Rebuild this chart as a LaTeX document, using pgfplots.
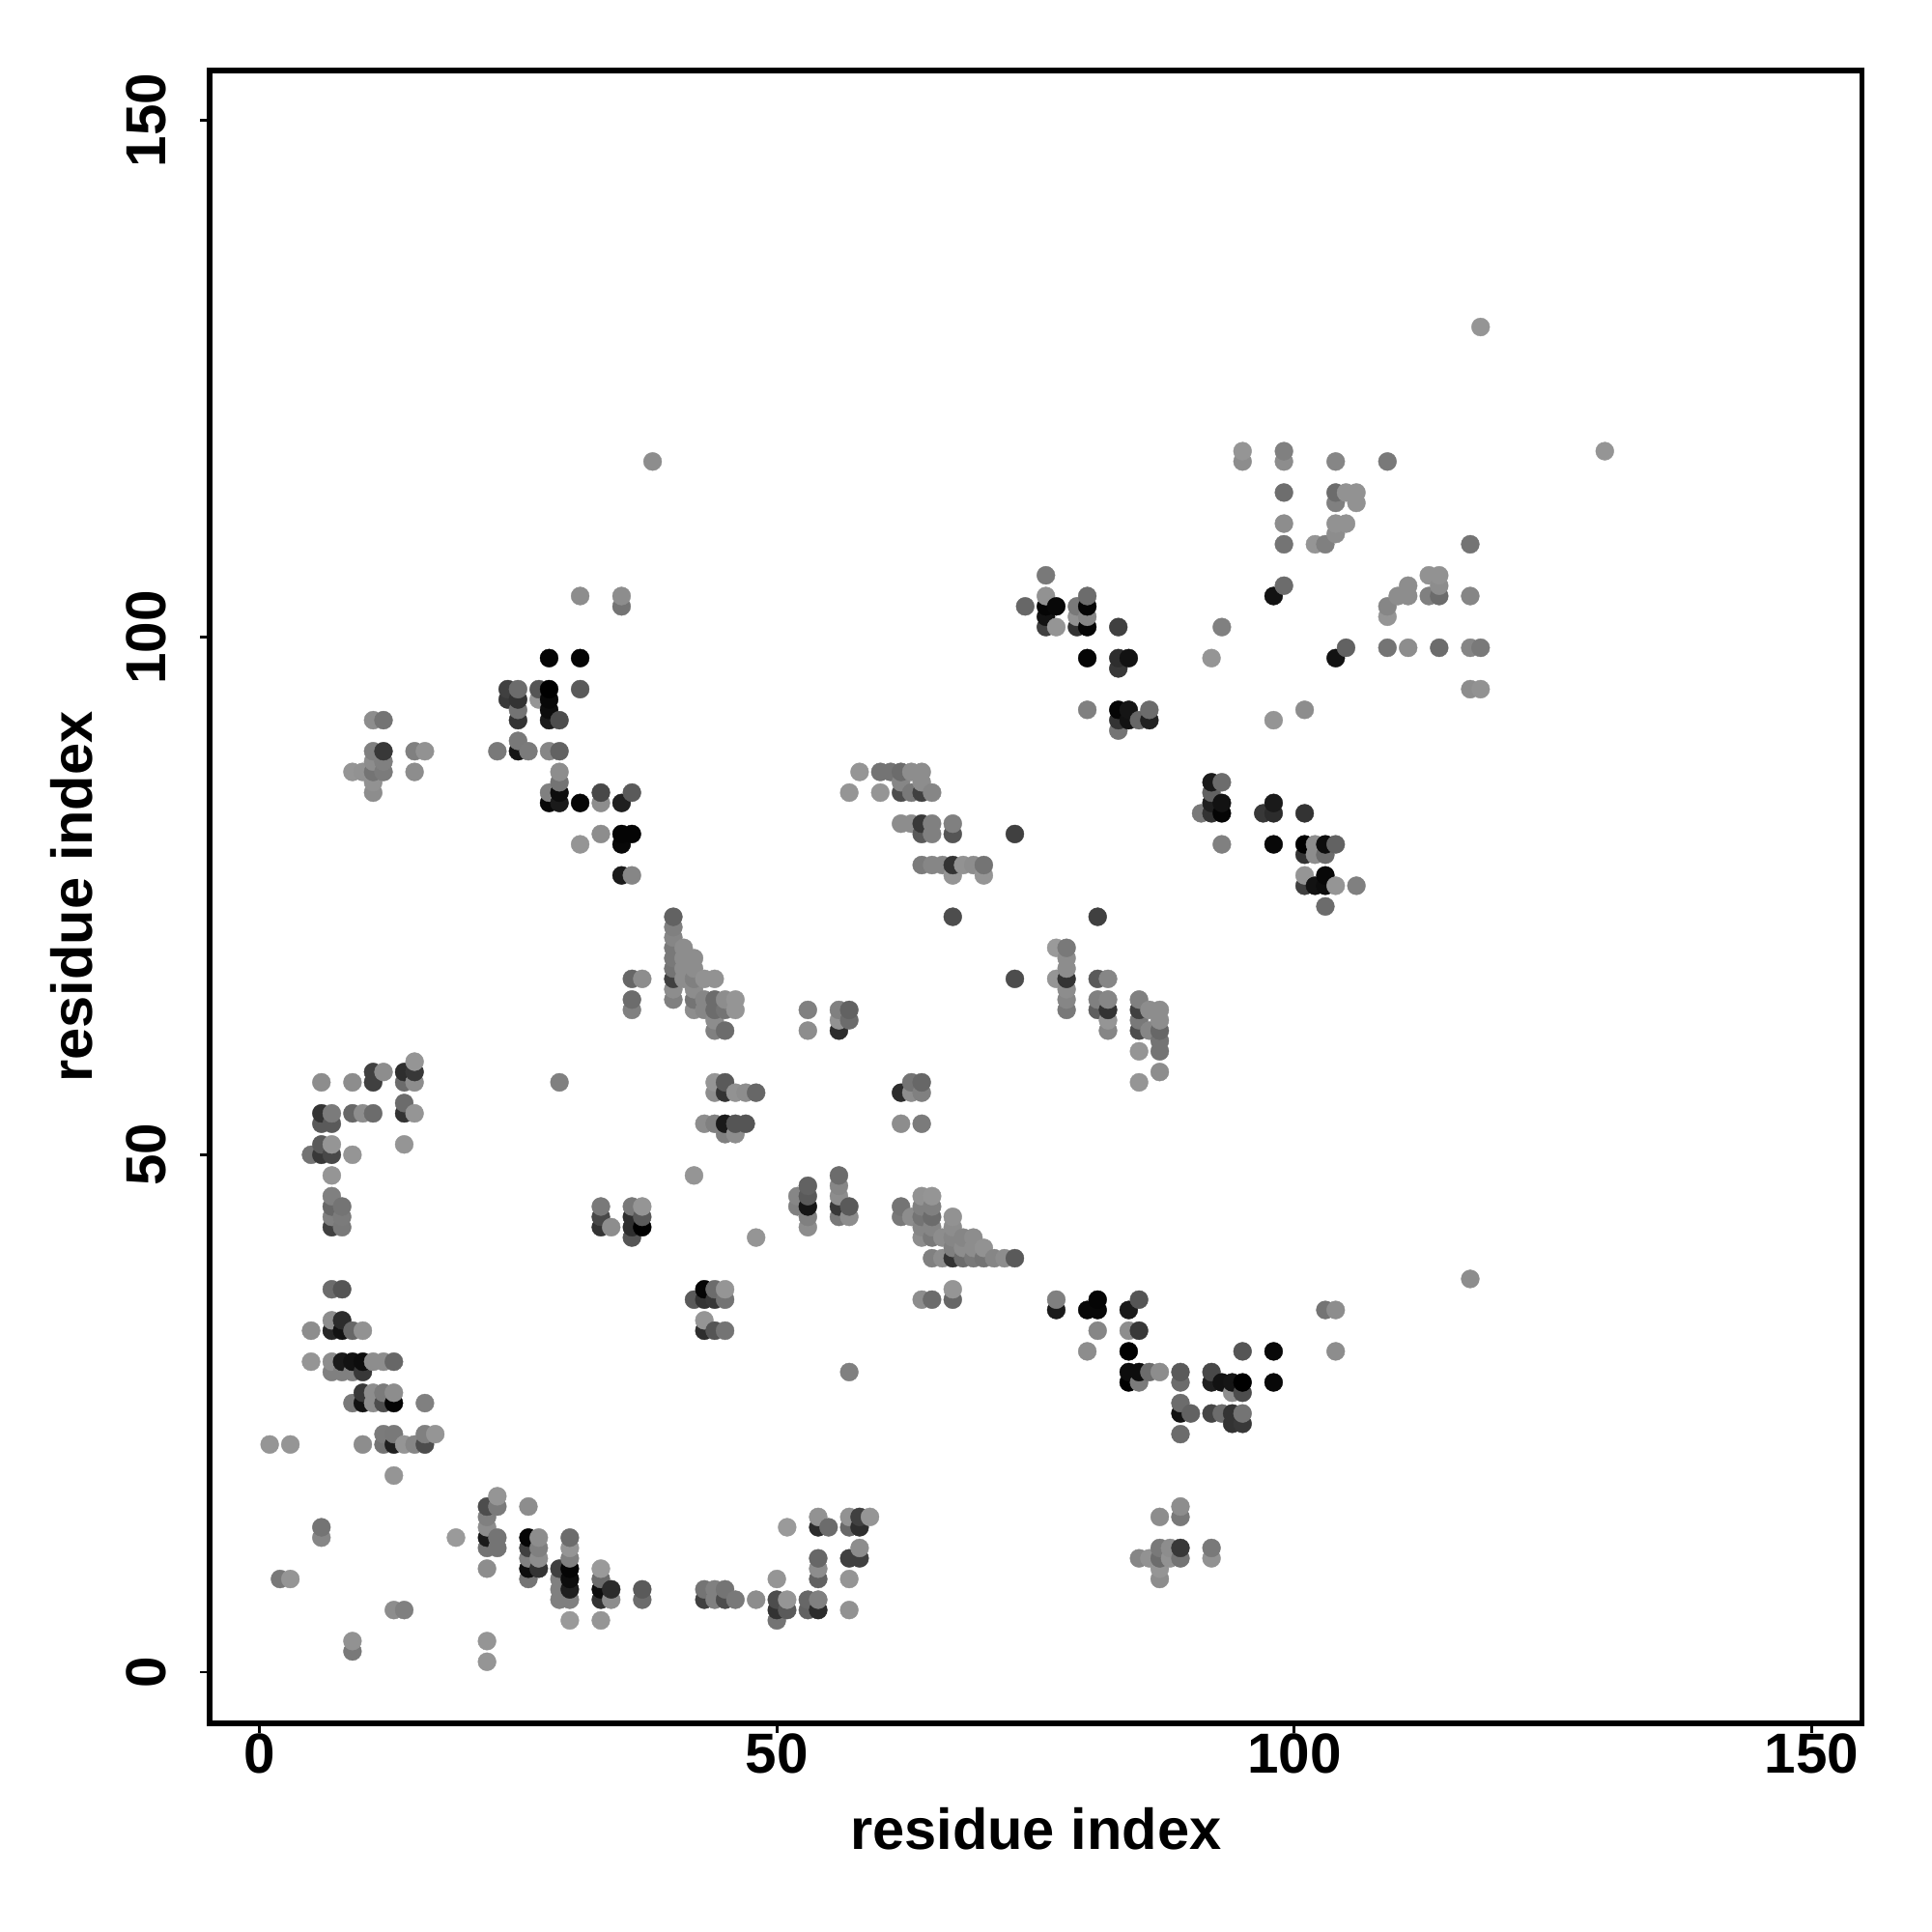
\documentclass[border=0pt]{standalone}
\usepackage{pgfplots}
\pgfplotsset{compat=1.18}
\usepackage{fontspec}
\setmainfont{Liberation Sans}
\begin{document}
\begin{tikzpicture}
\useasboundingbox (0pt,0pt) rectangle (500pt,500pt);
\begin{axis}[at={(54.2pt,54pt)},anchor=south west,
 scale only axis,width=427.7pt,height=427.8pt,
 xmin=-4.82,xmax=154.86,ymin=-4.95,ymax=154.81,
 xtick={0,50,100,150},ytick={0,50,100,150},
 tick align=outside,tick pos=left,
 major tick length=2.4pt,
 every tick/.style={black,line width=0.7pt},
 axis line style={black,line width=1.4pt},
 /pgf/number format/assume math mode=true,
 ticklabel style={font=\fontsize{14.6}{16}\selectfont\bfseries},
 xticklabel style={yshift=3.2pt},
 yticklabel style={rotate=90,anchor=south,yshift=5.3pt},
 xlabel={residue index},ylabel={residue index},
 label style={font=\fontsize{14.9}{16}\selectfont\bfseries},
 xlabel style={at={(axis description cs:0.5,0)},anchor=north,yshift=-18.4pt},
 ylabel style={at={(axis description cs:0,0.5)},anchor=south,yshift=26.7pt},
 colormap={g}{gray(0cm)=(0); gray(1cm)=(1)},
 point meta min=0,point meta max=1,clip=true]
\addplot[scatter,only marks,mark=*,mark size=2.35pt,
 scatter/use mapped color={draw=mapped color,fill=mapped color},
 mark options={line width=0.1pt},
 point meta=explicit]
 table[x=x,y=y,meta=g,row sep=\\]{
x y g\\
1 22 .58\\
2 9 .47\\
3 9 .58\\ 3 22 .58\\
5 30 .58\\ 5 33 .55\\ 5 50 .45\\
6 13 .52\\ 6 14 .45\\ 6 50 .22\\ 6 51 .35\\ 6 53 .35\\ 6 54 .2\\ 6 57 .55\\
7 29 .5\\ 7 30 .55\\ 7 33 .15\\ 7 34 .55\\ 7 37 .42\\ 7 43 .25\\ 7 44 .5\\ 7 45 .4\\ 7 46 .5\\ 7 48 .58\\ 7 50 .28\\ 7 51 .58\\ 7 53 .35\\ 7 54 .48\\
8 29 .5\\ 8 30 .1\\ 8 33 .07\\ 8 34 .17\\ 8 37 .33\\ 8 43 .47\\ 8 44 .48\\ 8 45 .45\\
9 2 .47\\ 9 3 .57\\ 9 26 .47\\ 9 29 .5\\ 9 30 .07\\ 9 33 .4\\ 9 50 .58\\ 9 54 .4\\ 9 57 .55\\ 9 87 .58\\
10 22 .55\\ 10 26 .07\\ 10 27 .22\\ 10 29 .22\\ 10 30 .05\\ 10 33 .57\\ 10 54 .55\\ 10 87 .57\\
11 26 .55\\ 11 27 .55\\ 11 30 .55\\ 11 54 .42\\ 11 57 .25\\ 11 58 .25\\ 11 85 .55\\ 11 86 .57\\ 11 87 .45\\ 11 88 .55\\ 11 89 .5\\ 11 92 .55\\
12 22 .45\\ 12 23 .48\\ 12 26 .3\\ 12 27 .48\\ 12 30 .55\\ 12 58 .55\\ 12 87 .48\\ 12 88 .5\\ 12 89 .22\\ 12 92 .45\\
13 6 .55\\ 13 19 .58\\ 13 22 .12\\ 13 23 .47\\ 13 26 .02\\ 13 27 .55\\ 13 30 .4\\
14 6 .5\\ 14 22 .58\\ 14 51 .58\\ 14 54 .2\\ 14 55 .42\\ 14 57 .42\\ 14 58 .18\\
15 22 .52\\ 15 54 .58\\ 15 57 .55\\ 15 58 .22\\ 15 59 .58\\ 15 87 .55\\ 15 89 .5\\
16 22 .3\\ 16 23 .5\\ 16 26 .5\\ 16 89 .57\\
17 23 .58\\
19 13 .6\\
22 1 .58\\ 22 3 .58\\ 22 10 .55\\ 22 12 .45\\ 22 13 .1\\ 22 14 .55\\ 22 15 .5\\ 22 16 .3\\
23 12 .45\\ 23 13 .45\\ 23 16 .48\\ 23 17 .58\\ 23 89 .47\\
24 94 .22\\ 24 95 .25\\
25 89 .08\\ 25 90 .47\\ 25 92 .2\\ 25 93 .45\\ 25 94 .2\\ 25 95 .42\\
26 9 .45\\ 26 10 .05\\ 26 11 .5\\ 26 12 .25\\ 26 13 .02\\ 26 16 .55\\ 26 89 .48\\
27 10 .2\\ 27 11 .55\\ 27 12 .5\\ 27 13 .55\\ 27 94 .58\\ 27 95 .33\\
28 84 .03\\ 28 85 .5\\ 28 89 .52\\ 28 92 .1\\ 28 93 .05\\ 28 94 .03\\ 28 95 0\\ 28 98 .02\\
29 7 .5\\ 29 8 .5\\ 29 9 .5\\ 29 10 .25\\ 29 57 .5\\ 29 84 .1\\ 29 85 .05\\ 29 86 .45\\ 29 87 .55\\ 29 89 .38\\ 29 92 .3\\
30 5 .6\\ 30 7 .5\\ 30 8 .12\\ 30 9 .05\\ 30 10 .02\\ 30 11 .5\\ 30 12 .58\\ 30 13 .42\\
31 80 .58\\ 31 84 .02\\ 31 95 .35\\ 31 98 .02\\ 31 104 .55\\
33 5 .58\\ 33 7 .2\\ 33 8 .05\\ 33 9 .42\\ 33 10 .6\\ 33 43 .2\\ 33 44 .28\\ 33 45 .47\\ 33 81 .55\\ 33 84 .55\\ 33 85 .28\\
34 7 .55\\ 34 8 .17\\ 34 43 .55\\
35 77 .1\\ 35 80 .03\\ 35 81 .02\\ 35 84 .12\\ 35 103 .45\\ 35 104 .55\\
36 42 .33\\ 36 43 .18\\ 36 44 .18\\ 36 45 .47\\ 36 64 .5\\ 36 65 .42\\ 36 67 .4\\ 36 77 .52\\ 36 81 .02\\ 36 85 .35\\
37 7 .42\\ 37 8 .35\\ 37 43 0\\ 37 44 .35\\ 37 45 .58\\ 37 67 .55\\
38 117 .55\\
40 65 .5\\ 40 66 .55\\ 40 67 .25\\ 40 68 .45\\ 40 69 .47\\ 40 70 .47\\ 40 71 .52\\ 40 72 .5\\ 40 73 .38\\
41 67 .55\\ 41 68 .55\\ 41 69 .55\\ 41 70 .55\\
42 36 .35\\ 42 48 .58\\ 42 64 .55\\ 42 65 .45\\ 42 66 .55\\ 42 67 .5\\ 42 68 .55\\ 42 69 .55\\
43 7 .25\\ 43 8 .45\\ 43 33 .18\\ 43 34 .58\\ 43 36 .2\\ 43 37 .02\\ 43 53 .55\\ 43 64 .52\\ 43 65 .52\\ 43 67 .57\\
44 7 .5\\ 44 8 .5\\ 44 33 .33\\ 44 36 .22\\ 44 37 .42\\ 44 53 .5\\ 44 56 .55\\ 44 57 .58\\ 44 62 .5\\ 44 63 .55\\ 44 64 .42\\ 44 65 .42\\ 44 67 .57\\
45 7 .3\\ 45 8 .45\\ 45 33 .45\\ 45 36 .45\\ 45 37 .58\\ 45 52 .5\\ 45 53 .1\\ 45 56 .2\\ 45 57 .35\\ 45 62 .42\\ 45 64 .45\\ 45 65 .55\\
46 7 .47\\ 46 52 .55\\ 46 53 .33\\ 46 56 .57\\ 46 64 .58\\ 46 65 .58\\
47 53 .33\\ 47 56 .55\\
48 7 .55\\ 48 42 .58\\ 48 56 .4\\
50 5 .45\\ 50 6 .2\\ 50 7 .3\\ 50 9 .58\\
51 6 .35\\ 51 7 .58\\ 51 14 .6\\
52 45 .5\\ 52 46 .52\\
53 6 .38\\ 53 7 .4\\ 53 43 .55\\ 53 44 .5\\ 53 45 .08\\ 53 46 .35\\ 53 47 .38\\ 53 62 .55\\ 53 64 .5\\
54 6 .17\\ 54 7 .5\\ 54 9 .38\\ 54 10 .55\\ 54 11 .4\\ 54 14 .17\\ 54 15 .57\\
55 14 .42\\
56 44 .47\\ 56 45 .22\\ 56 46 .55\\ 56 47 .52\\ 56 48 .42\\ 56 62 .17\\ 56 63 .57\\ 56 64 .5\\
57 6 .57\\ 57 9 .58\\ 57 11 .25\\ 57 14 .4\\ 57 15 .57\\ 57 29 .5\\ 57 44 .55\\ 57 45 .35\\ 57 63 .42\\ 57 64 .38\\ 57 85 .58\\
58 11 .25\\ 58 12 .55\\ 58 14 .18\\ 58 15 .25\\ 58 87 .58\\
59 15 .58\\
60 85 .58\\ 60 87 .45\\
61 87 .45\\
62 44 .47\\ 62 45 .45\\ 62 53 .55\\ 62 56 .17\\ 62 82 .55\\ 62 85 .3\\ 62 86 .52\\ 62 87 .42\\
63 44 .55\\ 63 56 .55\\ 63 57 .45\\ 63 82 .55\\ 63 85 .47\\ 63 87 .55\\
64 36 .55\\ 64 42 .55\\ 64 43 .52\\ 64 44 .45\\ 64 45 .5\\ 64 46 .57\\ 64 53 .48\\ 64 56 .5\\ 64 57 .4\\ 64 78 .48\\ 64 81 .35\\ 64 82 .22\\ 64 85 .25\\ 64 86 .55\\ 64 87 .55\\
65 36 .42\\ 65 40 .5\\ 65 42 .47\\ 65 43 .52\\ 65 44 .42\\ 65 45 .5\\ 65 46 .58\\ 65 78 .52\\ 65 81 .5\\ 65 82 .5\\ 65 85 .52\\
66 40 .55\\ 66 42 .55\\ 66 78 .52\\
67 36 .4\\ 67 37 .58\\ 67 40 .2\\ 67 41 .5\\ 67 42 .52\\ 67 43 .55\\ 67 44 .57\\ 67 73 .3\\ 67 77 .58\\ 67 78 .2\\ 67 81 .33\\ 67 82 .5\\
68 40 .42\\ 68 41 .55\\ 68 42 .52\\ 68 78 .57\\
69 40 .47\\ 69 41 .55\\ 69 42 .55\\ 69 78 .55\\
70 40 .45\\ 70 41 .57\\ 70 77 .58\\ 70 78 .45\\
71 40 .52\\
72 40 .55\\
73 40 .35\\ 73 67 .3\\ 73 81 .25\\
74 103 .4\\
76 101 .25\\ 76 102 .07\\ 76 103 .02\\ 76 104 .57\\ 76 106 .47\\
77 35 .1\\ 77 36 .5\\ 77 67 .58\\ 77 70 .6\\ 77 101 .58\\ 77 103 .03\\
78 64 .47\\ 78 65 .52\\ 78 66 .55\\ 78 67 .2\\ 78 68 .55\\ 78 69 .55\\ 78 70 .47\\
79 101 .2\\ 79 102 .57\\ 79 103 .47\\
80 31 .55\\ 80 35 .03\\ 80 93 .5\\ 80 98 .02\\ 80 101 .02\\ 80 102 .52\\ 80 103 .02\\ 80 104 .42\\
81 33 .52\\ 81 35 .03\\ 81 36 .02\\ 81 64 .37\\ 81 65 .5\\ 81 67 .35\\ 81 73 .25\\
82 62 .52\\ 82 63 .58\\ 82 64 .2\\ 82 65 .52\\ 82 67 .52\\
83 91 .45\\ 83 92 .2\\ 83 93 .02\\ 83 97 .22\\ 83 98 .18\\ 83 101 .25\\
84 28 0\\ 84 29 .05\\ 84 31 0\\ 84 33 .55\\ 84 35 .1\\ 84 92 .07\\ 84 93 .08\\ 84 98 .07\\
85 11 .52\\ 85 28 .48\\ 85 29 .05\\ 85 33 .22\\ 85 36 .33\\ 85 57 .58\\ 85 60 .58\\ 85 62 .3\\ 85 63 .47\\ 85 64 .25\\ 85 65 .5\\ 85 92 .4\\
86 11 .57\\ 86 29 .42\\ 86 62 .52\\ 86 64 .55\\ 86 92 .13\\ 86 93 .42\\
87 9 .55\\ 87 10 .58\\ 87 11 .42\\ 87 12 .47\\ 87 15 .55\\ 87 29 .55\\ 87 58 .55\\ 87 60 .45\\ 87 61 .45\\ 87 62 .4\\ 87 63 .55\\ 87 64 .55\\
88 11 .57\\ 88 12 .55\\
89 11 .45\\ 89 12 .22\\ 89 15 .47\\ 89 16 .55\\ 89 23 .42\\ 89 25 .07\\ 89 26 .42\\ 89 28 .42\\ 89 29 .35\\
90 25 .38\\
91 83 .47\\
92 11 .57\\ 92 12 .47\\ 92 25 .27\\ 92 28 .12\\ 92 29 .28\\ 92 83 .2\\ 92 84 .12\\ 92 85 .38\\ 92 86 .1\\ 92 98 .58\\
93 25 .42\\ 93 28 .07\\ 93 80 .5\\ 93 83 .02\\ 93 84 .07\\ 93 86 .42\\ 93 101 .5\\
94 24 .2\\ 94 25 .2\\ 94 27 .55\\ 94 28 .08\\
95 24 .22\\ 95 25 .45\\ 95 27 .3\\ 95 28 0\\ 95 31 .33\\ 95 117 .55\\ 95 118 .58\\
97 83 .22\\
98 28 .03\\ 98 31 .03\\ 98 80 .03\\ 98 83 .17\\ 98 84 .1\\ 98 92 .58\\ 98 104 .07\\
99 105 .42\\ 99 109 .45\\ 99 111 .55\\ 99 114 .43\\ 99 117 .55\\ 99 118 .5\\
101 76 .25\\ 101 77 .58\\ 101 79 .2\\ 101 80 0\\ 101 83 .2\\ 101 93 .55\\
102 76 .07\\ 102 79 .55\\ 102 80 .55\\ 102 109 .58\\
103 35 .45\\ 103 74 .42\\ 103 76 .05\\ 103 77 .03\\ 103 79 .42\\ 103 80 .05\\ 103 109 .5\\
104 31 .55\\ 104 35 .55\\ 104 76 .58\\ 104 80 .38\\ 104 98 .07\\ 104 110 .55\\ 104 111 .57\\ 104 113 .5\\ 104 114 .42\\ 104 117 .52\\
105 99 .38\\ 105 111 .57\\ 105 114 .57\\
106 76 .5\\ 106 113 .57\\ 106 114 .57\\
109 99 .45\\ 109 102 .58\\ 109 103 .52\\ 109 117 .47\\
110 104 .55\\
111 99 .55\\ 111 104 .55\\ 111 105 .55\\
113 104 .5\\ 113 106 .57\\
114 99 .42\\ 114 104 .42\\ 114 105 .55\\ 114 106 .57\\
117 38 .55\\ 117 95 .55\\ 117 99 .52\\ 117 104 .52\\ 117 109 .45\\
118 95 .57\\ 118 99 .47\\ 118 130 .58\\
130 118 .58\\
};
\end{axis}
\end{tikzpicture}
\end{document}
